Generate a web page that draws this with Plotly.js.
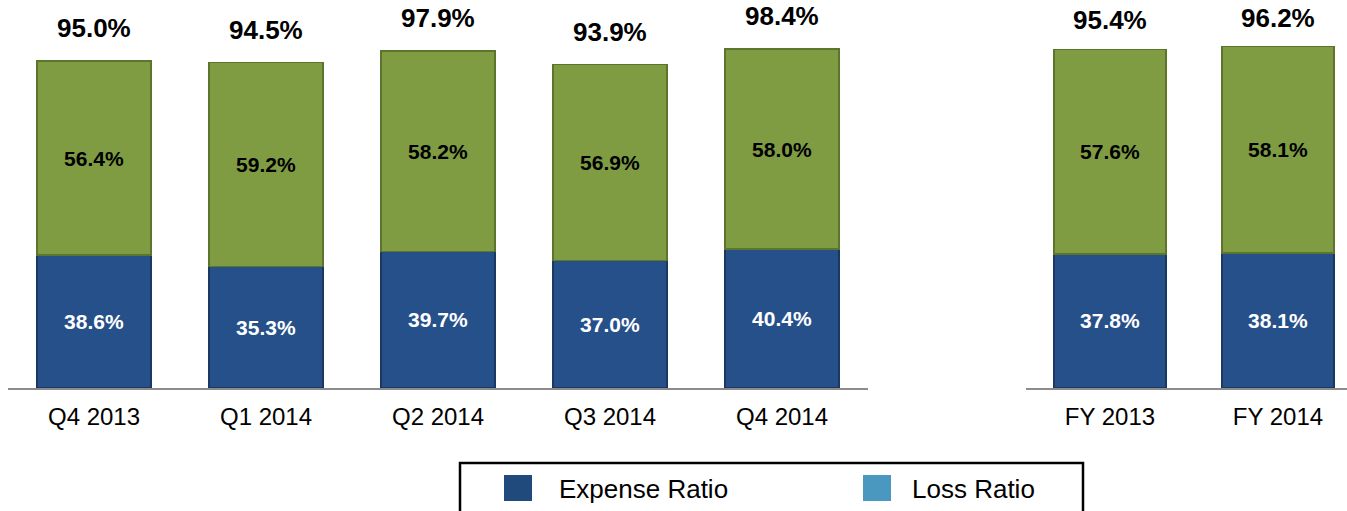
<!DOCTYPE html>
<html>
<head>
<meta charset="utf-8">
<script src="https://cdn.plot.ly/plotly-3.0.1.min.js"></script>
<style>
  html, body { margin: 0; padding: 0; background: #ffffff; }
  #chart { width: 1347px; height: 511px; }
</style>
</head>
<body>
<div id="chart"></div>
<script>
// ---- Data ----
const quarterCategories = ['Q4 2013', 'Q1 2014', 'Q2 2014', 'Q3 2014', 'Q4 2014'];
const quarterExpense = [38.6, 35.3, 39.7, 37.0, 40.4];
const quarterLoss = [56.4, 59.2, 58.2, 56.9, 58.0];
const quarterTotal = [95.0, 94.5, 97.9, 93.9, 98.4];

const yearCategories = ['FY 2013', 'FY 2014'];
const yearExpense = [37.8, 38.1];
const yearLoss = [57.6, 58.1];
const yearTotal = [95.4, 96.2];

const legendLabels = ['Expense Ratio', 'Loss Ratio'];

// ---- Styles ----
const FONT = 'Liberation Sans, Arial, Helvetica, sans-serif';
const BLUE = '#26508a';
const BLUE_EDGE = '#1a3860';
const GREEN = '#7f9c43';
const GREEN_EDGE = '#5c752c';
const LEGEND_BLUE = '#204a7c';
const LEGEND_LIGHT = '#4a97c0';
const pct = v => v.toFixed(1) + '%';

function barTrace(x, y, xa, ya, color, edge, textColor, name) {
  return {
    type: 'bar', x: x, y: y, xaxis: xa, yaxis: ya, name: name,
    marker: { color: color, line: { color: edge, width: 1.5 } },
    text: y.map(pct), textposition: 'inside', insidetextanchor: 'middle',
    textangle: 0, constraintext: 'none',
    textfont: { family: FONT, size: 21, color: textColor, weight: 'bold' },
    hoverinfo: 'skip', showlegend: false
  };
}

const data = [
  barTrace(quarterCategories, quarterExpense, 'x', 'y', BLUE, BLUE_EDGE, '#ffffff', legendLabels[0]),
  barTrace(quarterCategories, quarterLoss, 'x', 'y', GREEN, GREEN_EDGE, '#000000', legendLabels[1]),
  barTrace(yearCategories, yearExpense, 'x2', 'y2', BLUE, BLUE_EDGE, '#ffffff', legendLabels[0]),
  barTrace(yearCategories, yearLoss, 'x2', 'y2', GREEN, GREEN_EDGE, '#000000', legendLabels[1])
];

const totalAnnotations = [];
quarterCategories.forEach((c, i) => totalAnnotations.push({
  x: c, y: quarterTotal[i], xref: 'x', yref: 'y', text: pct(quarterTotal[i]),
  showarrow: false, yanchor: 'middle', yshift: 33,
  font: { family: FONT, size: 26, color: '#000', weight: 'bold' }
}));
yearCategories.forEach((c, i) => totalAnnotations.push({
  x: c, y: yearTotal[i], xref: 'x2', yref: 'y2', text: pct(yearTotal[i]),
  showarrow: false, yanchor: 'middle', yshift: 29,
  font: { family: FONT, size: 26, color: '#000', weight: 'bold' }
}));

// legend (drawn manually to match the reference's swatches)
const W = 1347, PH = 388;
const px = v => v / W;
const py = v => (PH - v) / PH;
const legendAnnotations = [
  { xref: 'paper', yref: 'paper', x: px(557), y: py(489), xanchor: 'left', yanchor: 'middle',
    text: legendLabels[0], showarrow: false, font: { family: FONT, size: 26, color: '#000' } },
  { xref: 'paper', yref: 'paper', x: px(910), y: py(489), xanchor: 'left', yanchor: 'middle',
    text: legendLabels[1], showarrow: false, font: { family: FONT, size: 26, color: '#000' } }
];
const shapes = [
  { type: 'rect', xref: 'paper', yref: 'paper', x0: px(460), x1: px(1083), y0: py(463), y1: py(530),
    line: { color: '#000', width: 2.5 }, fillcolor: 'rgba(0,0,0,0)' },
  { type: 'rect', xref: 'paper', yref: 'paper', x0: px(504), x1: px(532), y0: py(475), y1: py(501),
    line: { width: 0 }, fillcolor: LEGEND_BLUE },
  { type: 'rect', xref: 'paper', yref: 'paper', x0: px(863), x1: px(891), y0: py(475), y1: py(501),
    line: { width: 0 }, fillcolor: LEGEND_LIGHT }
];

const axisCommon = {
  type: 'category', showline: true, linecolor: '#8c8c8c', linewidth: 2,
  showgrid: false, zeroline: false, ticks: '', fixedrange: true,
  tickfont: { family: FONT, size: 24, color: '#000' }, ticklabelstandoff: 6
};

const layout = {
  width: 1347, height: 511,
  margin: { l: 0, r: 0, t: 0, b: 123, pad: 0 },
  paper_bgcolor: '#ffffff', plot_bgcolor: '#ffffff',
  barmode: 'stack', bargap: 0.335,
  showlegend: false,
  xaxis: Object.assign({}, axisCommon, { domain: [8 / W, 868 / W], anchor: 'y' }),
  xaxis2: Object.assign({}, axisCommon, { domain: [1026 / W, 1], anchor: 'y2', range: [-0.5, 1.411] }),
  yaxis: { domain: [0, 1], range: [0, 112.7], visible: false, fixedrange: true },
  yaxis2: { domain: [0, 1], range: [0, 109.3], visible: false, fixedrange: true, anchor: 'x2' },
  annotations: totalAnnotations.concat(legendAnnotations),
  shapes: shapes,
  font: { family: FONT }
};

Plotly.newPlot('chart', data, layout, { displayModeBar: false, staticPlot: true });
</script>
</body>
</html>
